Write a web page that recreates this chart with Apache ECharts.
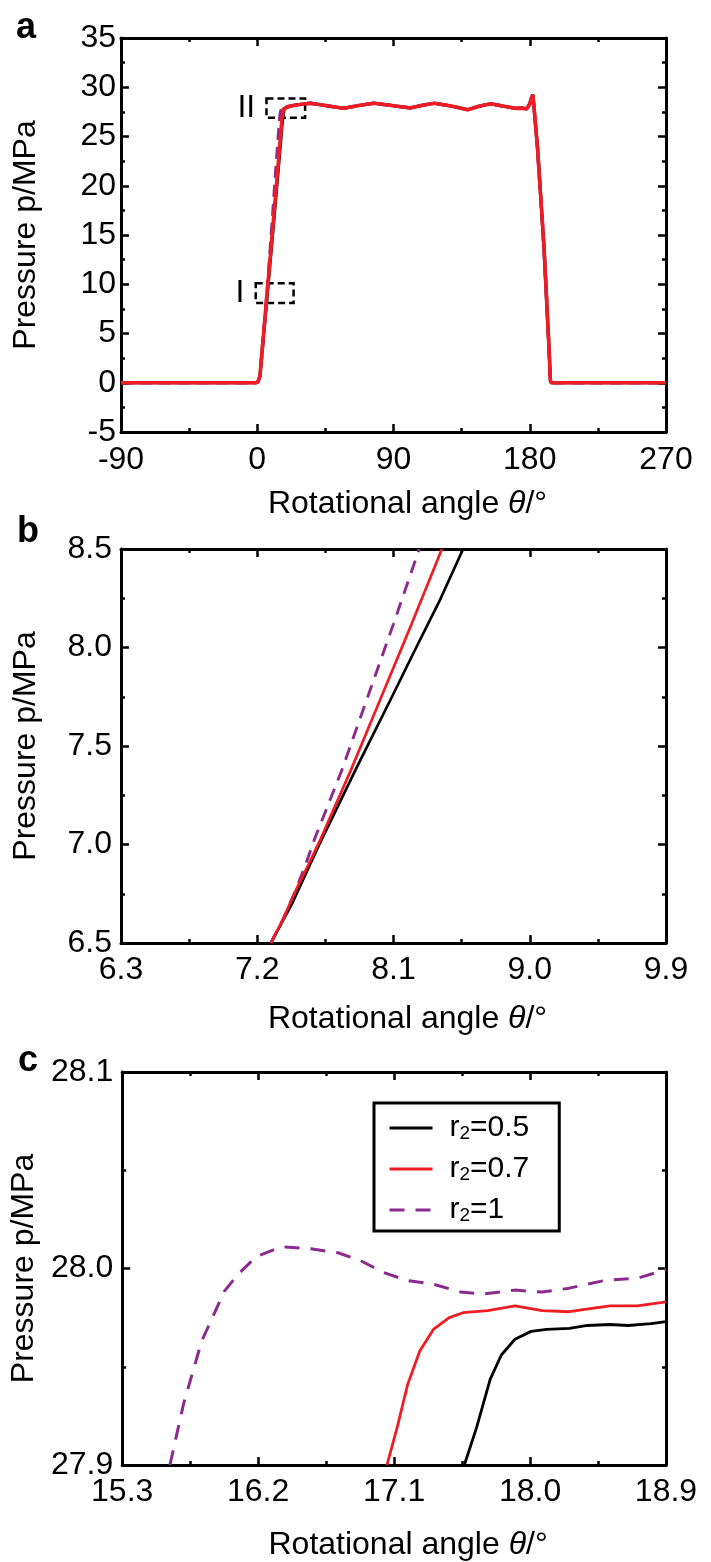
<!DOCTYPE html>
<html><head><meta charset="utf-8">
<script src="https://cdn.jsdelivr.net/npm/echarts@6/dist/echarts.min.js"></script>
<style>html,body{margin:0;padding:0;background:#fff}#c{width:711px;height:1562px}</style>
</head><body><div id="c"></div><script>
// ---------- DATA ----------
const seriesNames = ['r2=0.5', 'r2=0.7', 'r2=1'];
// panel a: ramp parts (theta deg, pressure MPa)
const aBlackRamp = [[-90,0],[-1,0],[0.5,0.1],[1.2,0.3],[1.8,0.7],[3,2.8],[5,6.2],[7,9.6],[9,13.1],[11,16.6],[13,20.1],[15,23.7],[16.6,26.6],[17.6,27.7],[18.9,27.95]];
const aRedRamp = [[-90,0],[-1,0],[0.5,0.1],[1.2,0.3],[1.8,0.7],[3,2.9],[5,6.4],[7,10.0],[9,13.5],[11,17.1],[13,20.7],[15,24.3],[16.3,26.8],[17.3,27.8],[18.5,28.0]];
const aPurpleRamp = [[-90,0],[-1,0],[0.5,0.1],[1.2,0.3],[1.8,0.7],[3,2.9],[5,6.4],[6.5,9.2],[8,12.2],[10,16.5],[12,20.9],[14,25.1],[15.2,27.3],[16.3,28.05],[18.5,28.0]];
// panel a: plateau and fall (shared by the three cases)
const aPlateau = [[22,28.1],[28,28.25],[35,28.38],[45,28.15],[57,27.86],[67,28.15],[77,28.38],[90,28.12],[101,27.9],[110,28.2],[117,28.38],[128,28.1],[139,27.72],[146,28.05],[154,28.33],[162,28.1],[170.5,27.86],[175,27.88],[178,27.8],[180,28.3],[181.3,29.0],[182,29.25],[182.8,28.0],[185.1,23.9],[189.4,13.8],[192.7,3.6],[193.6,0.3],[194,0],[270,0]];
// panel a: zoom boxes [theta1, p1, theta2, p2]
const boxNames = ['I', 'II'];
const boxCoords = [[-1.0, 10.1, 24.0, 8.1], [6.1, 28.85, 31.6, 26.9]];
// panel b
const bBlack = [[7.29,6.5],[7.36,6.6],[7.43,6.7],[7.52,6.85],[7.61,7.0],[7.85,7.38],[8.09,7.75],[8.25,8.0],[8.40,8.23],[8.56,8.5]];
const bRed = [[7.29,6.5],[7.37,6.62],[7.45,6.76],[7.54,6.9],[7.62,7.03],[7.82,7.38],[8.02,7.75],[8.22,8.12],[8.42,8.5]];
const bPurple = [[7.29,6.5],[7.37,6.62],[7.45,6.76],[7.52,6.9],[7.58,7.03],[7.76,7.38],[7.93,7.75],[8.10,8.12],[8.27,8.5]];
// panel c
const cBlack = [[17.565,27.9],[17.646,27.919],[17.736,27.9436],[17.81,27.956],[17.90,27.964],[18.007,27.968],[18.11,27.969],[18.26,27.9695],[18.38,27.971],[18.53,27.9715],[18.65,27.971],[18.80,27.972],[18.9,27.973]];
const cRed = [[17.053,27.9],[17.12,27.919],[17.19,27.941],[17.27,27.958],[17.36,27.969],[17.465,27.975],[17.556,27.9775],[17.72,27.9786],[17.90,27.981],[18.08,27.9786],[18.26,27.978],[18.41,27.9797],[18.53,27.981],[18.71,27.981],[18.9,27.983]];
const cPurple = [[15.616,27.9],[15.706,27.931],[15.826,27.963],[15.977,27.9885],[16.067,27.997],[16.187,28.006],[16.353,28.011],[16.548,28.010],[16.729,28.008],[16.879,28.004],[17.029,27.998],[17.18,27.994],[17.36,27.992],[17.54,27.988],[17.69,27.987],[17.90,27.989],[18.08,27.988],[18.26,27.990],[18.50,27.994],[18.71,27.995],[18.9,27.9995]];
// axis ranges [min, max, interval, decimals]
const axA = {x:[-90,270,90,0], y:[-5,35,5,0]};
const axB = {x:[6.3,9.9,0.9,1], y:[6.5,8.5,0.5,1]};
const axC = {x:[15.3,18.9,0.9,1], y:[27.9,28.1,0.1,1]};

// ---------- STYLE ----------
const FF = '"Liberation Sans", Arial, Helvetica, sans-serif';
const RED = '#ee1d24', PURPLE = '#8c2a8e', BLACK = '#000';
const grids = [
  {left:121, top:38, width:545, height:394},
  {left:121, top:549, width:545, height:394},
  {left:121, top:1072, width:545, height:396}
];
const axes = [axA, axB, axC];
const xNameGap = [56, 60, 64];
const xLabelMargin = [12, 11, 11];
const yLabelMargin = [5, 9, 9];
const xAxes = [], yAxes = [];
const titleRich = {
  n:{fontSize:32, fontFamily:FF, color:'#000'},
  i:{fontSize:32, fontFamily:FF, fontStyle:'italic', color:'#000'}
};
axes.forEach((ax, g) => {
  const common = (r, isX, main) => ({
    type:'value', gridIndex:g, min:r[0], max:r[1], interval:r[2],
    axisLine:{show:true, onZero:false, lineStyle:{color:'#000', width:3}},
    axisTick:{show:true, inside:true, length:8, lineStyle:{color:'#000', width:2.5}},
    minorTick:{show:true, splitNumber:2, length:4, lineStyle:{color:'#000', width:2.5}},
    splitLine:{show:false}, minorSplitLine:{show:false},
    axisLabel:{show:main, showMinLabel:true, showMaxLabel:true, fontSize:32, fontFamily:FF, color:'#000',
      margin: isX ? xLabelMargin[g] : yLabelMargin[g],
      formatter: v => Number(v).toFixed(r[3])}
  });
  const xb = common(ax.x, true, true);
  xb.position = 'bottom';
  xb.name = '{n|Rotational angle }{i|θ}{n|/°}';
  xb.nameLocation = 'middle'; xb.nameGap = xNameGap[g];
  xb.nameTextStyle = {rich:titleRich, padding:[0,0,0,28]};
  const xt = common(ax.x, true, false); xt.position = 'top';
  const yl = common(ax.y, false, true);
  yl.position = 'left';
  yl.name = 'Pressure p/MPa'; yl.nameLocation = 'middle'; yl.nameGap = 79;
  yl.nameTextStyle = {fontSize:32, fontFamily:FF, color:'#000'};
  const yr = common(ax.y, false, false); yr.position = 'right';
  xAxes.push(xb, xt); yAxes.push(yl, yr);
});

function line(name, data, g, color, width, dashed, dash, extra) {
  return Object.assign({
    type:'line', name, data, xAxisIndex:2*g, yAxisIndex:2*g,
    symbol:'none', showSymbol:false, smooth:false, animation:false,
    lineStyle:{color, width, type: dashed ? dash : 'solid'},
    itemStyle:{color}
  }, extra || {});
}

const markArea = {
  silent:true,
  itemStyle:{color:'rgba(0,0,0,0)', borderColor:'#000', borderWidth:2.5, borderType:[7,4]},
  label:{show:true, position:'left', distance:10, fontSize:32, fontFamily:FF, color:'#000'},
  data: boxNames.map((n, i) => [{name:n, coord:[boxCoords[i][0], boxCoords[i][1]]}, {coord:[boxCoords[i][2], boxCoords[i][3]]}])
};

const series = [
  // panel c first (legend inherits styles from these)
  line(seriesNames[0], cBlack, 2, BLACK, 2.8, false),
  line(seriesNames[1], cRed, 2, RED, 2.8, false),
  line(seriesNames[2], cPurple, 2, PURPLE, 3, true, [15,11]),
  // panel b
  line(seriesNames[0], bBlack, 1, BLACK, 2.7, false),
  line(seriesNames[2], bPurple, 1, PURPLE, 2.9, true, [13,9]),
  line(seriesNames[1], bRed, 1, RED, 2.7, false),
  // panel a
  line(seriesNames[0], aBlackRamp.concat(aPlateau), 0, BLACK, 3.2, false, null, {markArea}),
  line(seriesNames[2], aPurpleRamp.concat(aPlateau), 0, PURPLE, 3.4, true, [12,7]),
  line(seriesNames[1], aRedRamp.concat(aPlateau), 0, RED, 3.6, false)
];

const legendRich = {
  g:{width:12, fontSize:30},
  r:{fontSize:30, lineHeight:30, fontFamily:FF, color:'#000'},
  s:{fontSize:19, lineHeight:19, fontFamily:FF, color:'#000', verticalAlign:'bottom'}
};

const option = {
  animation:false,
  backgroundColor:'#fff',
  grid: grids,
  xAxis: xAxes,
  yAxis: yAxes,
  legend: {
    data: seriesNames, orient:'vertical', left:374, top:1103,
    padding:[10, 30, 6, 14], itemWidth:43, itemHeight:14, itemGap:11,
    borderColor:'#000', borderWidth:3, backgroundColor:'#fff',
    lineStyle:{width:3},
    itemStyle:{color:'rgba(0,0,0,0)', borderColor:'rgba(0,0,0,0)', borderWidth:0, opacity:0},
    formatter: n => '{g| }{r|r}{s|2}{r|' + n.slice(2) + '}',
    textStyle:{fontSize:30, lineHeight:30, fontFamily:FF, color:'#000', rich:legendRich}
  },
  graphic: [
    {type:'text', left:16, top:10, style:{text:'a', font:'bold 36px ' + FF, fill:'#000'}},
    {type:'text', left:17, top:514, style:{text:'b', font:'bold 36px ' + FF, fill:'#000'}},
    {type:'text', left:18, top:1043, style:{text:'c', font:'bold 36px ' + FF, fill:'#000'}}
  ],
  series
};
const chart = echarts.init(document.getElementById('c'), null, {renderer:'canvas'});
chart.setOption(option);
</script></body></html>
